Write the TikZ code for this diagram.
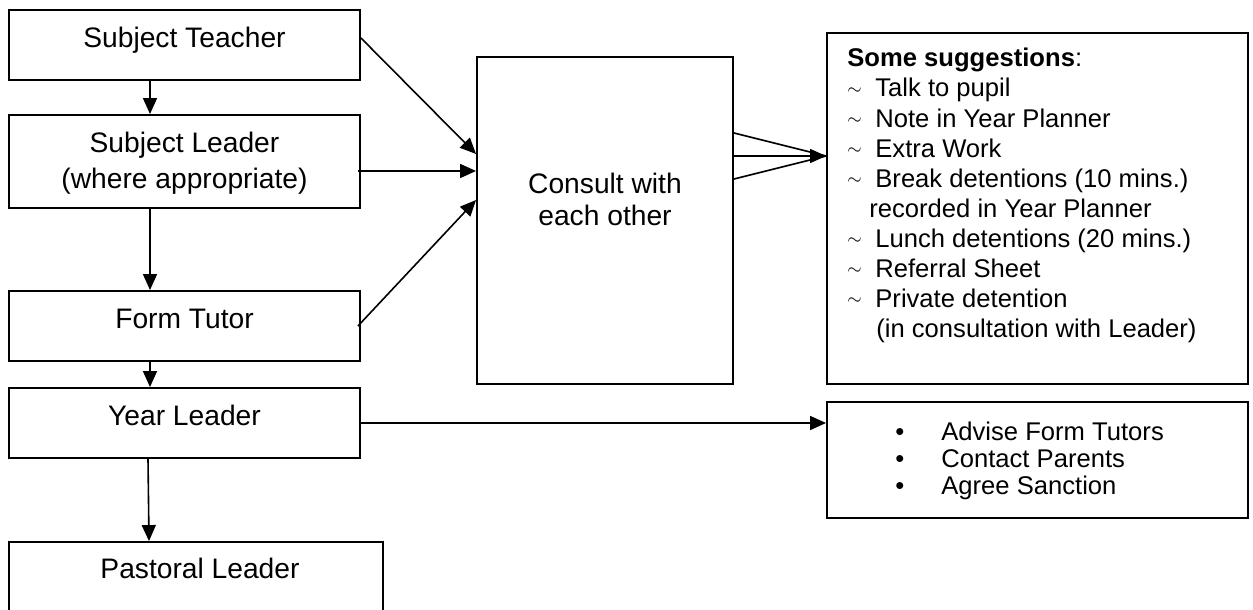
\documentclass[tikz,border=0pt]{standalone}
\usepackage{fontspec}
\setmainfont{Liberation Sans}
\usetikzlibrary{arrows.meta}
\newcommand\tld{\makebox[14pt][l]{\raisebox{1.2pt}{\fontsize{9}{9}\selectfont$\sim$}}}
\newcommand\bul{\makebox[23pt][l]{•}}
\begin{document}
\begin{tikzpicture}[x=0.5pt,y=-0.5pt,
  box/.style={draw,line width=0.95pt,rectangle,inner sep=0pt},
  big/.style={font=\fontsize{14.1}{17}\selectfont,inner sep=0pt,anchor=base},
  small/.style={font=\fontsize{12.8}{15}\selectfont,inner sep=0pt,anchor=base west},
  arr/.style={line width=0.8pt,-{Triangle[length=8pt,width=7pt]}},
  ln/.style={line width=0.8pt}]
\useasboundingbox[fill=white] (0,0) rectangle (1253,610);
% boxes
\node[box,minimum width=175.5pt,minimum height=35pt] (ST) at (184.5,45) {};
\node[box,minimum width=175.5pt,minimum height=46.5pt] (SL) at (184.5,161.5) {};
\node[box,minimum width=175.5pt,minimum height=35pt] (FT) at (184.5,326) {};
\node[box,minimum width=175.5pt,minimum height=35pt] (YL) at (184.5,423) {};
\node[box,minimum width=187pt,minimum height=41.5pt] (PL) at (196,583.5) {};
\node[box,minimum width=128pt,minimum height=163.5pt] (CO) at (605,220.5) {};
\node[box,minimum width=210.5pt,minimum height=175.5pt] (SG) at (1037.5,208.5) {};
\node[box,minimum width=210.5pt,minimum height=58pt] (AD) at (1037.5,460) {};
% texts
\node[big] (tST) at (184.5,48) {Subject Teacher};
\node[big] (tSL1) at (184.5,153) {Subject Leader};
\node[big] (tSL2) at (184.5,188) {(where appropriate)};
\node[big] (tFT) at (184.5,328) {Form Tutor};
\node[big] (tYL) at (184.5,425) {Year Leader};
\node[big] (tPL) at (200,578) {Pastoral Leader};
\node[big] (tCO1) at (605,193) {Consult with};
\node[big] (tCO2) at (605,225) {each other};
% suggestions
\node[small] (s0) at (847,67) {\textbf{Some suggestions}:};
\node[small] (s1) at (847,97) {\tld Talk to pupil};
\node[small] (s2) at (847,127) {\tld Note in Year Planner};
\node[small] (s3) at (847,157) {\tld Extra Work};
\node[small] (s4) at (847,187) {\tld Break detentions (10 mins.)};
\node[small] (s5) at (869,217) {recorded in Year Planner};
\node[small] (s6) at (847,247) {\tld Lunch detentions (20 mins.)};
\node[small] (s7) at (847,277) {\tld Referral Sheet};
\node[small] (s8) at (847,307) {\tld Private detention};
\node[small] (s9) at (876,337) {(in consultation with Leader)};
% year leader actions
\node[small] (a1) at (895,440) {\bul Advise Form Tutors};
\node[small] (a2) at (895,467) {\bul Contact Parents};
\node[small] (a3) at (895,494) {\bul Agree Sanction};
% connectors
\draw[arr] ([xshift=-17.25pt]ST.south) -- ([xshift=-17.25pt]SL.north);
\draw[arr] ([xshift=-17.25pt]SL.south) -- ([xshift=-17.25pt]FT.north);
\draw[arr] ([xshift=-17.25pt]FT.south) -- ([xshift=-17.25pt]YL.north);
\draw[arr] ([xshift=-18.25pt]YL.south) -- ([xshift=-23.5pt]PL.north);
\draw[arr] ([yshift=3.5pt]ST.east) -- ([yshift=33.25pt]CO.west);
\draw[arr] ([yshift=-4.75pt,xshift=-1.5pt]SL.east) -- ([yshift=24.75pt]CO.west);
\draw[arr] ([xshift=-1.5pt]FT.east) -- ([yshift=10.25pt]CO.west);
\draw[ln] ([yshift=43.75pt]CO.east) -- ([yshift=26.25pt]SG.west);
\draw[arr] ([yshift=32.25pt]CO.east) -- ([yshift=26.25pt]SG.west);
\draw[ln] ([yshift=20.75pt]CO.east) -- ([yshift=26.25pt]SG.west);
\draw[arr] (YL.east) -- (YL.east -| AD.west);
\end{tikzpicture}
\end{document}
